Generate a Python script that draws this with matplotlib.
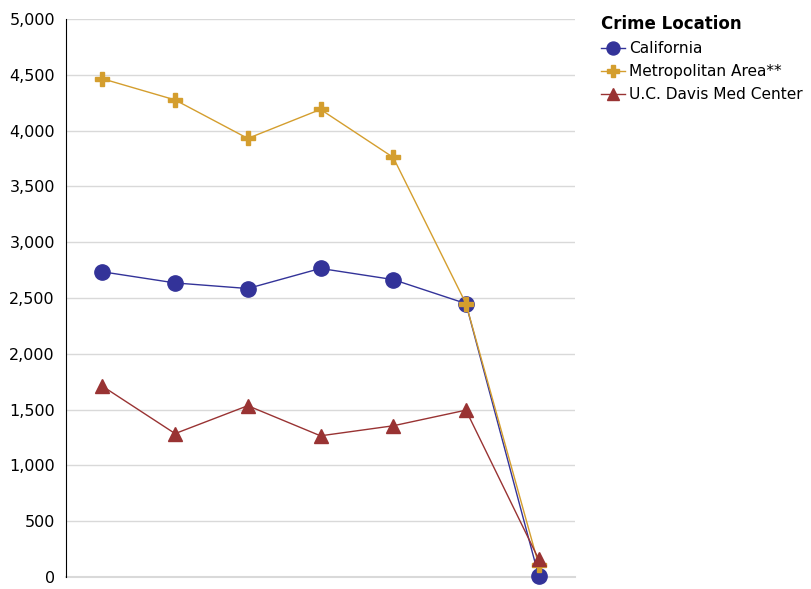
import numpy as np
import matplotlib.pyplot as plt
from matplotlib.ticker import FuncFormatter

# values
points = np.arange(7)
california = [2735, 2635, 2585, 2765, 2665, 2450, 10]
metro_area = [4465, 4275, 3930, 4190, 3760, 2450, 110]
ucd_med_center = [1710, 1285, 1535, 1265, 1355, 1495, 160]
series_names = ["California", "Metropolitan Area**", "U.C. Davis Med Center"]

plt.rcParams['font.family'] = ['DejaVu Sans']

fig = plt.figure(figsize=(8.11, 5.89), dpi=100)
ax = fig.add_axes([0.0814, 0.0204, 0.6276, 0.9473])

ax.plot(points, california, color="#333399", lw=1, marker="o", ms=11,
        label=series_names[0], zorder=3)
ax.plot(points, metro_area, color="#D49E2E", lw=1, marker="P", ms=10.5,
        label=series_names[1], zorder=4)
ax.plot(points, ucd_med_center, color="#993333", lw=1, marker="^", ms=10,
        label=series_names[2], zorder=5)

ax.set_xlim(-0.5, 6.5)
ax.set_ylim(0, 5000)
ax.set_yticks(np.arange(0, 5001, 500))
ax.yaxis.set_major_formatter(FuncFormatter(lambda v, p: f"{int(v):,}"))
ax.set_xticks([])
ax.tick_params(axis="y", length=0, labelsize=11.5, pad=8)
ax.grid(axis="y", color="#d9d9d9", lw=1)
ax.axhline(0, color="#d9d9d9", lw=1.5, zorder=1, clip_on=False)
ax.set_axisbelow(True)
for s in ["top", "right", "bottom"]:
    ax.spines[s].set_visible(False)
ax.spines["left"].set_color("black")
for ln in ax.lines:
    ln.set_clip_on(False)

leg = fig.legend(loc="upper left", bbox_to_anchor=(0.733, 0.985), frameon=False,
                 title="Crime Location", fontsize=11.1, handlelength=1.55,
                 handletextpad=0.3, labelspacing=0.52, borderaxespad=0,
                 markerscale=0.85)
leg.get_title().set_fontweight("bold")
leg.get_title().set_fontsize(12)
leg._legend_box.align = "left"

fig.savefig("out.png", dpi=100)
